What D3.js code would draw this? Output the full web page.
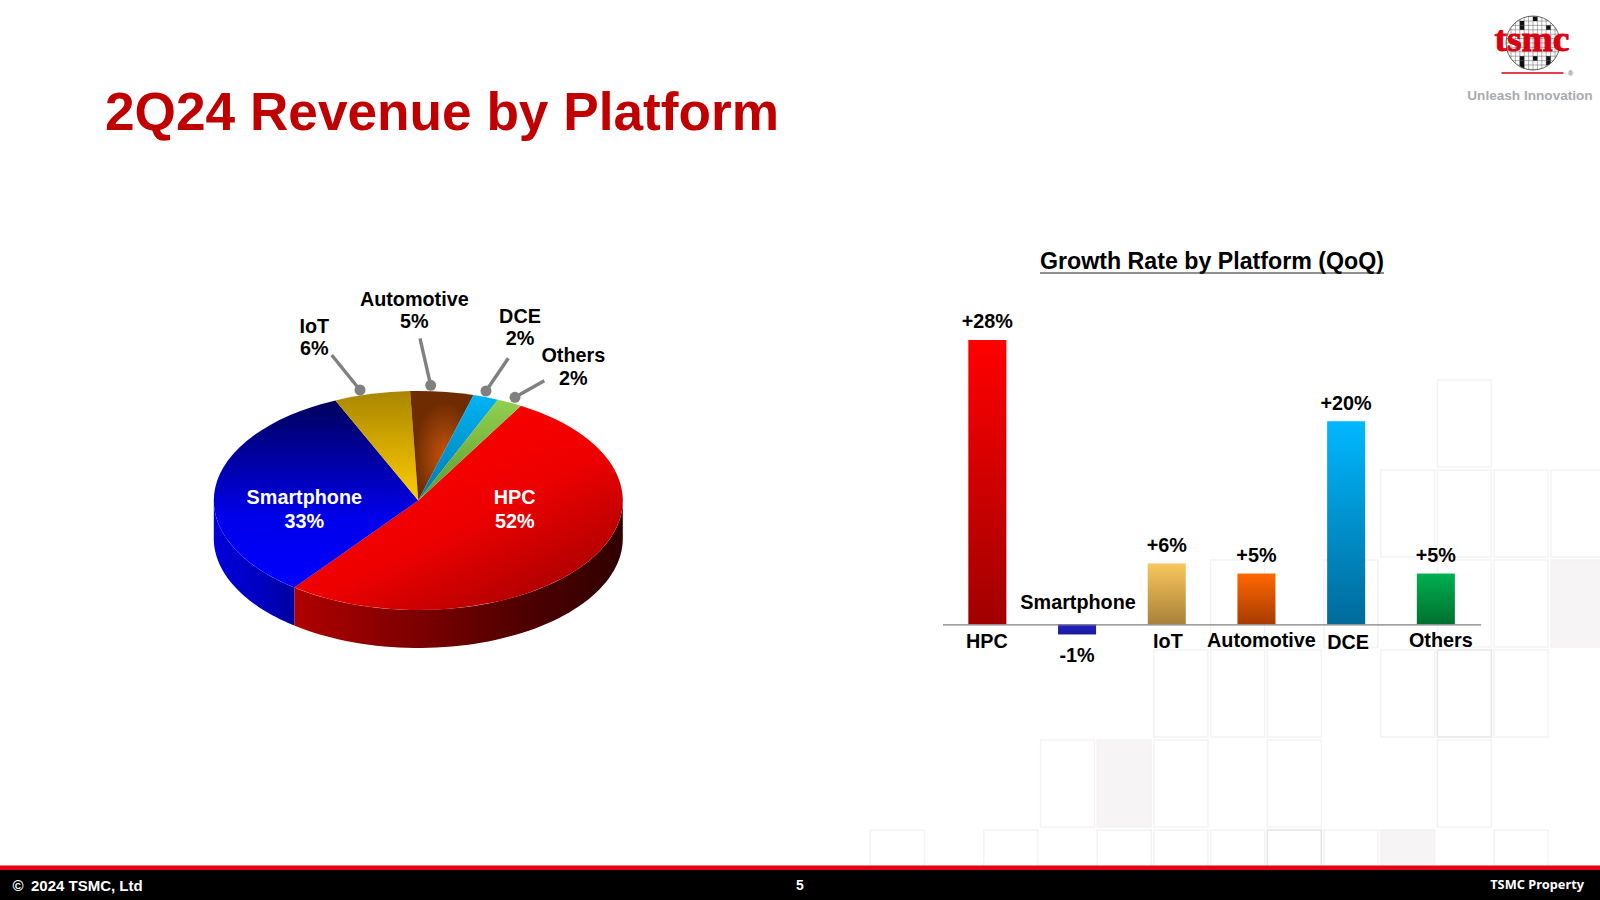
<!DOCTYPE html>
<html><head><meta charset="utf-8">
<script src="https://cdnjs.cloudflare.com/ajax/libs/d3/7.8.5/d3.min.js"></script>
<style>html,body{margin:0;padding:0;background:#fff;overflow:hidden}svg{display:block}text{font-family:"Liberation Sans",Arial,sans-serif;font-weight:700}</style>
</head><body><svg id="c" width="1600" height="900"></svg>
<script>
const pieCategories=["HPC","Smartphone","IoT","Automotive","DCE","Others"];
const pieShares=[52,33,6,5,2,2];
const growthCategories=["HPC","Smartphone","IoT","Automotive","DCE","Others"];
const growthValues=[28,-1,6,5,20,5];
const growthLabels=["+28%","-1%","+6%","+5%","+20%","+5%"];

(function(){
const svg=d3.select("#c"),defs=svg.append("defs");
function lg(id,stops,x1=0,y1=0,x2=0,y2=1){const g=defs.append("linearGradient").attr("id",id).attr("x1",x1).attr("y1",y1).attr("x2",x2).attr("y2",y2);
 stops.forEach(s=>g.append("stop").attr("offset",s[0]).attr("stop-color",s[1]));}
lg("gHPC",[[0,"#ff0000"],[.55,"#ee0000"],[1,"#a80000"]],.25,0,.95,.85);
lg("gSm",[[0,"#00005c"],[.3,"#0000a0"],[.62,"#0000ea"],[1,"#0000ff"]]);
lg("gIoT",[[0,"#a98600"],[1,"#ffcc00"]]);
lg("gDCE",[[0,"#00b4f4"],[1,"#0078b0"]]);
lg("gOth",[[0,"#92d050"],[1,"#5c9a30"]]);
const ag=defs.append("radialGradient").attr("id","gAuto").attr("cx",.55).attr("cy",.6).attr("r",.5);
[[0,"#cc5200"],[.5,"#99400a"],[1,"#6e2c00"]].forEach(s=>ag.append("stop").attr("offset",s[0]).attr("stop-color",s[1]));
lg("wHPC",[[0,"#b00000"],[.3,"#860000"],[.7,"#4e0000"],[1,"#300000"]],0,0,1,0);
lg("wSm",[[0,"#0000d8"],[.6,"#0000c0"],[1,"#0000a0"]],0,0,1,0);
const barCols=[["#ff0000","#a00000"],["#2222cc","#1a1a99"],["#f9c75c","#a8813a"],["#ff6600","#a83c00"],["#00b8ff","#006a9a"],["#00b050","#007030"]];
barCols.forEach((c,i)=>lg("b"+i,[[0,c[0]],[1,c[1]]]));

// background tiles [column,row,kind]
const tileX=d3.scaleLinear().domain([0,1]).range([870.4,927.1]);
const tileY=d3.scaleLinear().domain([0,1]).range([380,470]);
const tiles=[[10,0,0],[9,1,0],[10,1,0],[11,1,0],[12,1,0],[6,2,0],[8,2,0],[10,2,0],[11,2,0],[12,2,2],
[5,3,0],[6,3,0],[7,3,0],[9,3,0],[10,3,1],[11,3,0],[3,4,0],[4,4,2],[5,4,0],[7,4,0],[10,4,0],
[0,5,0],[2,5,0],[4,5,0],[5,5,0],[6,5,0],[7,5,1],[8,5,0],[9,5,2],[11,5,0]];
svg.append("g").selectAll("rect").data(tiles).join("rect")
 .attr("x",d=>tileX(d[0])).attr("y",d=>tileY(d[1])).attr("width",54).attr("height",87)
 .attr("fill",d=>d[2]==2?"#f6f4f4":"#fff").attr("stroke",d=>d[2]==1?"#e6e3e3":"#f4f2f2").attr("stroke-width",1.4);

// title
svg.append("text").attr("x",105).attr("y",130).attr("font-size",53.2).attr("fill","#c00000").text("2Q24 Revenue by Platform");

// pie
const cx=418.3,cy=500.5,rx=204.5,ry=109.5,depth=38;
const fills=["url(#gHPC)","url(#gSm)","url(#gIoT)","url(#gAuto)","url(#gDCE)","url(#gOth)"];
const startA=30.1*Math.PI/180;
const pie=d3.pie().sort(null).startAngle(startA).endAngle(startA+2*Math.PI);
const arcs=pie(pieShares);
const px=a=>cx+rx*Math.sin(a),py=a=>cy-ry*Math.cos(a);
const wall=(a0,a1)=>{const s=d3.range(0,61).map(i=>a0+(a1-a0)*i/60);
 const l=d3.line();return l(s.map(a=>[px(a),py(a)]).concat(s.slice().reverse().map(a=>[px(a),py(a)+depth])))+"Z";};
const pg=svg.append("g");
const front=[Math.PI/2,3*Math.PI/2];
arcs.forEach((d,i)=>{const a0=Math.max(d.startAngle,front[0]),a1=Math.min(d.endAngle,front[1]);
 if(a1>a0)pg.append("path").attr("d",wall(a0,a1)).attr("fill",i==0?"url(#wHPC)":"url(#wSm)");});
const arc=d3.arc().innerRadius(0).outerRadius(rx);
const face=pg.append("g").attr("transform",`translate(${cx},${cy}) scale(1,${ry/rx})`);
face.selectAll("path").data(arcs).join("path").attr("d",arc).attr("fill",(d,i)=>fills[i]);

// pie labels
const pieLabelPos=[[514.7,504,"#fff"],[304.3,504,"#fff"],[314.3,332.7,"#000"],[414.3,305.7,"#000"],[520,322.7,"#000"],[573.3,362.3,"#000"]];
const leaders=[null,null,[331.7,355,360,390],[420,338.3,430.7,385.3],[508.3,358.3,486,391],[544.3,380.7,515,397.3]];
leaders.forEach(l=>{if(!l)return;
 svg.append("line").attr("x1",l[0]).attr("y1",l[1]).attr("x2",l[2]).attr("y2",l[3]).attr("stroke","#808080").attr("stroke-width",3.4);
 svg.append("circle").attr("cx",l[2]).attr("cy",l[3]).attr("r",5.5).attr("fill","#808080");});
pieCategories.forEach((c,i)=>{const p=pieLabelPos[i];
 const g=svg.append("g").attr("text-anchor","middle").attr("font-size",19.8).attr("fill",p[2]);
 g.append("text").attr("x",p[0]).attr("y",p[1]).text(c);
 g.append("text").attr("x",p[0]).attr("y",p[1]+(i<2?24:22.2)).text(pieShares[i]+"%");});

// bar chart
const x=d3.scaleBand().domain(growthCategories).range([942.5,1480.7]).paddingInner(.576).paddingOuter(.288);
const y=d3.scaleLinear().domain([0,28]).range([624.3,340]);
svg.append("text").attr("x",1212).attr("y",269).attr("text-anchor","middle").attr("font-size",23.2).attr("fill","#000").text("Growth Rate by Platform (QoQ)");
svg.append("line").attr("x1",1040).attr("x2",1384).attr("y1",273).attr("y2",273).attr("stroke","#222").attr("stroke-width",1.2);
svg.append("g").selectAll("rect").data(growthValues).join("rect")
 .attr("x",(d,i)=>x(growthCategories[i])).attr("width",x.bandwidth())
 .attr("y",d=>y(Math.max(0,d))).attr("height",d=>Math.abs(y(d)-y(0)))
 .attr("fill",(d,i)=>`url(#b${i})`);
const axis=d3.axisBottom(x).tickSize(0).tickFormat("");
const ag2=svg.append("g").attr("transform",`translate(0,${y(0)})`).call(axis);
ag2.select(".domain").attr("stroke","#808080").attr("stroke-width",1.3);
const catDx=[-.5,1,1.2,5,2,5],catY=[647.8,608.8,647.8,647.2,648.8,647.2];
growthCategories.forEach((c,i)=>{
 svg.append("text").attr("x",x(c)+x.bandwidth()/2+catDx[i]).attr("y",catY[i]).attr("text-anchor","middle").attr("font-size",19.8).text(c);
 const v=growthValues[i];
 svg.append("text").attr("x",x(c)+x.bandwidth()/2).attr("y",v<0?661.5:y(v)-11.7).attr("text-anchor","middle").attr("font-size",19.8).text(growthLabels[i]);
});

// footer
svg.append("rect").attr("x",0).attr("y",865.5).attr("width",1600).attr("height",4.5).attr("fill","#e60012");
svg.append("rect").attr("x",0).attr("y",870).attr("width",1600).attr("height",30).attr("fill","#000");
svg.append("text").attr("x",12.5).attr("y",891).attr("font-size",15).attr("fill","#fff").text("©");
svg.append("text").attr("x",31).attr("y",891).attr("font-size",15).attr("fill","#fff").text("2024 TSMC, Ltd");
svg.append("text").attr("x",800).attr("y",890).attr("text-anchor","middle").attr("font-size",14).attr("fill","#fff").text("5");
svg.append("text").attr("x",1584).attr("y",889).attr("text-anchor","end").style("font-family","'Noto Sans',sans-serif").attr("font-size",12.8).attr("fill","#fff").text("TSMC Property");

// logo
const lx=1533,ly=43,lr=27,cell=4.4;
const clip=defs.append("clipPath").attr("id","wafer");clip.append("circle").attr("cx",lx).attr("cy",ly).attr("r",lr);
const lg2=svg.append("g");
const cells=lg2.append("g").attr("clip-path","url(#wafer)");
d3.range(-6,7).forEach(i=>{cells.append("line").attr("x1",lx+i*cell).attr("x2",lx+i*cell).attr("y1",ly-lr).attr("y2",ly+lr).attr("stroke","#777").attr("stroke-width",.6);
 cells.append("line").attr("y1",ly+i*cell).attr("y2",ly+i*cell).attr("x1",lx-lr).attr("x2",lx+lr).attr("stroke","#777").attr("stroke-width",.6);});
[[0,-6],[-3,-5],[-3,-4],[3,-4],[-3,3],[-3,4],[-3,5],[0,3],[3,3],[3,4]].forEach(c=>cells.append("rect").attr("x",lx+c[0]*cell).attr("y",ly+c[1]*cell).attr("width",cell).attr("height",cell).attr("fill","#111"));
lg2.append("circle").attr("cx",lx).attr("cy",ly).attr("r",lr).attr("fill","none").attr("stroke","#555").attr("stroke-width",.9);
lg2.append("text").attr("x",1532).attr("y",51).attr("text-anchor","middle").style("font-family","'Liberation Serif',serif").attr("font-size",36).attr("fill","#d90012").attr("stroke","#d90012").attr("stroke-width",.9).attr("textLength",75).attr("lengthAdjust","spacingAndGlyphs").text("tsmc");
lg2.append("line").attr("x1",1501.5).attr("x2",1563.5).attr("y1",73).attr("y2",73).attr("stroke","#d90012").attr("stroke-width",1.6);
lg2.append("text").attr("x",1570.5).attr("y",75.5).attr("text-anchor","middle").attr("font-size",7).attr("fill","#777").text("®");
lg2.append("text").attr("x",1530).attr("y",100).attr("text-anchor","middle").attr("font-size",13.6).attr("fill","#a7abaf").text("Unleash Innovation");
})();
</script></body></html>
